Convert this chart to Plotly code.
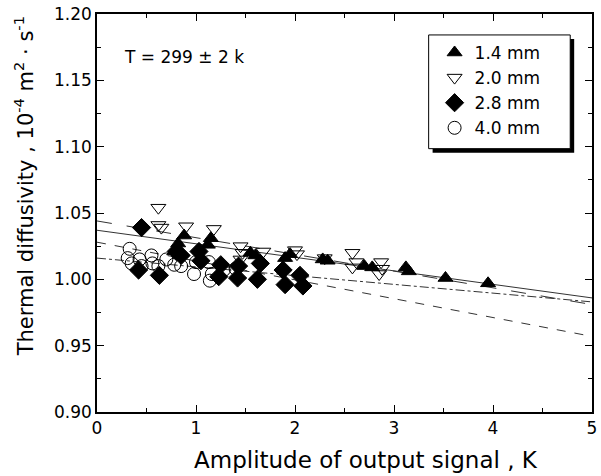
import plotly.graph_objects as go

# ---- data ----
tri_x = [0.78, 0.82, 0.88, 1.12, 1.15, 1.55, 1.60, 1.90, 1.95, 2.28, 2.33, 2.70, 2.78, 3.12, 3.15, 3.52, 3.95]
tri_y = [1.021, 1.027, 1.033, 1.026, 1.031, 1.020, 1.018, 1.016, 1.019, 1.015, 1.014, 1.010, 1.009, 1.009, 1.006, 1.001, 0.997]

inv_x = [0.62, 0.62, 0.65, 0.90, 1.18, 1.45, 1.47, 1.45, 1.68, 2.00, 2.02, 2.30, 2.58, 2.62, 2.58, 2.87, 2.88, 2.85]
inv_y = [1.054, 1.041, 1.039, 1.040, 1.038, 1.025, 1.020, 1.015, 1.021, 1.022, 1.019, 1.016, 1.020, 1.013, 1.009, 1.013, 1.008, 1.004]

dia_x = [0.45, 0.42, 0.63, 0.80, 0.85, 1.03, 1.05, 1.25, 1.23, 1.43, 1.42, 1.65, 1.62, 1.88, 1.90, 2.05, 2.08]
dia_y = [1.039, 1.007, 1.003, 1.021, 1.018, 1.021, 1.014, 1.011, 1.002, 1.010, 1.001, 1.012, 1.000, 1.007, 0.996, 1.003, 0.995]

cir_x = [0.33, 0.31, 0.35, 0.43, 0.45, 0.55, 0.56, 0.62, 0.70, 0.78, 0.85, 0.98, 1.00, 1.13, 1.14, 1.16, 1.28, 1.40]
cir_y = [1.023, 1.016, 1.012, 1.015, 1.010, 1.018, 1.012, 1.010, 1.015, 1.011, 1.010, 1.004, 1.013, 1.013, 0.999, 1.004, 1.007, 1.008]

fit_x = [0, 5]
fit_solid = [1.037, 0.986]
fit_longdash = [1.044, 0.981]
fit_dashdot = [1.016, 0.983]
fit_dash = [1.028, 0.957]

labels = ["1.4 mm", "2.0 mm", "2.8 mm", "4.0 mm"]

FONT = "DejaVu Sans"

fig = go.Figure()

# fit lines
for ys, dash in [(fit_solid, "solid"), (fit_longdash, "longdash"),
                 (fit_dashdot, "dashdot"), (fit_dash, "dash")]:
    fig.add_trace(go.Scatter(x=fit_x, y=ys, mode="lines", showlegend=False,
                             line=dict(color="#333333", width=1, dash=dash),
                             hoverinfo="skip"))

fig.add_trace(go.Scatter(x=tri_x, y=tri_y, mode="markers", name=labels[0],
                         marker=dict(symbol="triangle-up", size=13, color="black",
                                     line=dict(color="black", width=1))))
fig.add_trace(go.Scatter(x=inv_x, y=inv_y, mode="markers", name=labels[1],
                         marker=dict(symbol="triangle-down-open", size=13, color="black",
                                     line=dict(color="black", width=1))))
fig.add_trace(go.Scatter(x=dia_x, y=dia_y, mode="markers", name=labels[2],
                         marker=dict(symbol="diamond", size=14, color="black",
                                     line=dict(color="black", width=1))))
fig.add_trace(go.Scatter(x=cir_x, y=cir_y, mode="markers", name=labels[3],
                         marker=dict(symbol="circle-open", size=13, color="black",
                                     line=dict(color="black", width=1))))

W, H = 601, 476
L, R, T, B = 97, 4, 13, 64
pw, ph = W - L - R, H - T - B

def px(xp):
    return (xp - L) / pw

def py(yp):
    return (H - B - yp) / ph

# legend box + shadow
fig.add_shape(type="rect", xref="paper", yref="paper",
              x0=px(436), x1=px(579), y0=py(152), y1=py(38),
              fillcolor="black", line=dict(width=0), layer="above")
fig.add_shape(type="rect", xref="paper", yref="paper",
              x0=px(432), x1=px(575), y0=py(148), y1=py(34),
              fillcolor="white", line=dict(color="black", width=1), layer="above")

fig.update_layout(
    width=W, height=H,
    margin=dict(l=L, r=R, t=T, b=B, pad=0),
    paper_bgcolor="white", plot_bgcolor="white",
    font=dict(family=FONT, size=17, color="black"),
    showlegend=True,
    legend=dict(x=px(438), y=py(34), xanchor="left", yanchor="top",
                bgcolor="rgba(0,0,0,0)", borderwidth=0,
                font=dict(family=FONT, size=17, color="black"),
                tracegroupgap=0),
    xaxis=dict(range=[0, 5], dtick=1, tick0=0, ticks="inside", ticklen=7,
               tickwidth=1, tickcolor="black", showline=True, linecolor="black",
               linewidth=1.5, mirror="ticks", showgrid=False, zeroline=False,
               ticklabeloverflow="allow",
               minor=dict(dtick=0.5, ticks="inside", ticklen=4, tickcolor="black"),
               tickfont=dict(family=FONT, size=17)),
    yaxis=dict(range=[0.90, 1.20], dtick=0.05, tick0=0.9, tickformat=".2f",
               ticks="inside", ticklen=7, tickwidth=1, tickcolor="black",
               showline=True, linecolor="black", linewidth=1.5, mirror="ticks",
               showgrid=False, zeroline=False, ticklabeloverflow="allow",
               minor=dict(dtick=0.025, ticks="inside", ticklen=4, tickcolor="black"),
               tickfont=dict(family=FONT, size=17)),
    annotations=[
        dict(text="T = 299 ± 2 k", xref="paper", yref="paper", x=px(122), y=py(56),
             xanchor="left", yanchor="middle", showarrow=False,
             font=dict(family=FONT, size=17)),
        dict(text="Amplitude of output signal , K", xref="paper", yref="paper",
             x=px(369), y=py(460), xanchor="center", yanchor="middle",
             showarrow=False, font=dict(family=FONT, size=23)),
        dict(text="Thermal diffusivity , 10<sup>-4</sup> m<sup>2</sup> · s<sup>-1</sup>",
             xref="paper", yref="paper", x=px(23), y=py(186), xanchor="center",
             yanchor="middle", textangle=-90, showarrow=False,
             font=dict(family=FONT, size=21)),
    ],
)

# remove the default 8px body margin so the figure fills the window exactly
fig.write_html("out.html", config={"displayModeBar": False},
               post_script="document.body.style.margin='0';document.body.style.overflow='hidden';")
